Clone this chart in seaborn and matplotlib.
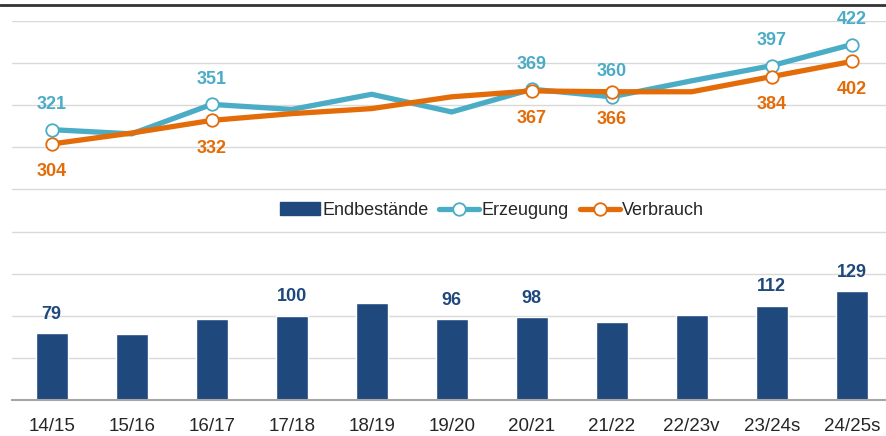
import numpy as np
import pandas as pd
import matplotlib
matplotlib.use("Agg")
import matplotlib.pyplot as plt
import seaborn as sns
from matplotlib.lines import Line2D
from matplotlib.patches import Patch

# Data
seasons = ["14/15", "15/16", "16/17", "17/18", "18/19", "19/20",
           "20/21", "21/22", "22/23v", "23/24s", "24/25s"]
endbestaende = [79, 78, 96, 100, 115, 96, 98, 93, 101, 112, 129]
erzeugung = [321, 316, 351, 345, 363, 342, 369, 360, 379, 397, 422]
verbrauch = [304, 317, 332, 340, 346, 360, 367, 366, 366, 384, 402]
labeled = [0, 2, 6, 7, 9, 10]       # points with marker + value label
bar_labeled = [0, 3, 5, 6, 9, 10]   # bars with value label

# Colors
bar_color = "#1f497d"
blue = "#4bacc6"
orange = "#e36c09"

sns.set_style("white")
plt.rcParams["font.family"] = ["Liberation Sans", "DejaVu Sans"]

df = pd.DataFrame({"pos": np.arange(len(seasons)), "season": seasons,
                   "end": endbestaende, "erz": erzeugung, "ver": verbrauch})

fig = plt.figure(figsize=(8.86, 4.36), dpi=100)
ax = fig.add_axes([11.7 / 886, 36 / 436, 880 / 886, 379 / 436])

sns.barplot(data=df, x="pos", y="end", color=bar_color, width=0.4,
            saturation=1, ax=ax, zorder=2)

sns.lineplot(data=df, x="pos", y="erz", color=blue, linewidth=3.8, ax=ax,
             marker="o", markevery=labeled, markersize=9,
             markerfacecolor="white", markeredgecolor=blue, markeredgewidth=1.3,
             zorder=3)
sns.lineplot(data=df, x="pos", y="ver", color=orange, linewidth=3.8, ax=ax,
             marker="o", markevery=labeled, markersize=9,
             markerfacecolor="white", markeredgecolor=orange, markeredgewidth=1.3,
             zorder=4)

# value labels
for i in labeled:
    ax.annotate(str(erzeugung[i]), (i, erzeugung[i]), xytext=(0, 25),
                textcoords="offset pixels", ha="center", va="center",
                color=blue, fontsize=13, fontweight="bold")
    ax.annotate(str(verbrauch[i]), (i, verbrauch[i]), xytext=(0, -28),
                textcoords="offset pixels", ha="center", va="center",
                color=orange, fontsize=13, fontweight="bold")
for i in bar_labeled:
    ax.annotate(str(endbestaende[i]), (i, endbestaende[i]), xytext=(0, 19),
                textcoords="offset pixels", ha="center", va="center",
                color=bar_color, fontsize=13, fontweight="bold")

ax.set_xlim(-0.5, len(seasons) - 0.5)
ax.set_ylim(0, 450)
ax.set_yticks(np.arange(50, 451, 50))
ax.set_yticklabels([])
ax.tick_params(axis="y", length=0)
ax.set_xticks(np.arange(len(seasons)))
ax.set_xticklabels(seasons, fontsize=13.5)
ax.tick_params(axis="x", length=0, pad=13)
ax.grid(axis="y", color="#d9d9d9", linewidth=1.0, zorder=0)
ax.set_axisbelow(True)
ax.set_xlabel("")
ax.set_ylabel("")
for s in ["top", "right", "left"]:
    ax.spines[s].set_visible(False)
ax.spines["bottom"].set_color("#a6a6a6")
ax.spines["bottom"].set_linewidth(1.5)

handles = [
    Patch(facecolor=bar_color, edgecolor=bar_color),
    Line2D([0], [0], color=blue, linewidth=3.8, marker="o", markersize=9,
           markerfacecolor="white", markeredgecolor=blue, markeredgewidth=1.3),
    Line2D([0], [0], color=orange, linewidth=3.8, marker="o", markersize=9,
           markerfacecolor="white", markeredgecolor=orange, markeredgewidth=1.3),
]
ax.legend(handles, ["Endbestände", "Erzeugung", "Verbrauch"], ncol=3,
          loc="center", bbox_to_anchor=(0.546, 0.5), frameon=False,
          fontsize=13, handlelength=2.2, handleheight=0.7,
          handletextpad=0.15, columnspacing=0.6)

# dark rule along the top edge
fig.add_artist(Line2D([0, 1], [1 - 5 / 436, 1 - 5 / 436], color="#333333",
                      linewidth=2, transform=fig.transFigure))

fig.savefig("out.png", dpi=100)
